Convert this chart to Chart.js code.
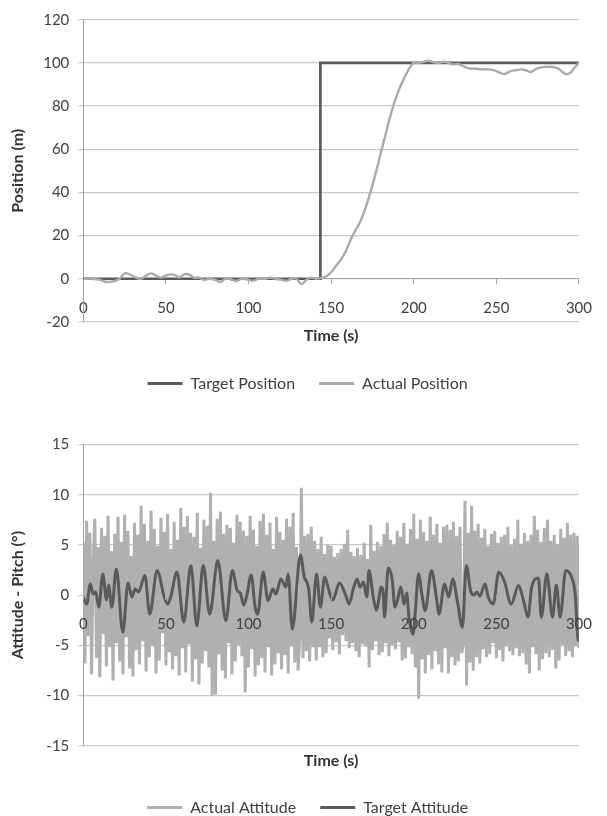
<!DOCTYPE html>
<html>
<head>
<meta charset="utf-8">
<script src="https://cdn.jsdelivr.net/npm/chart.js@4.4.0/dist/chart.umd.min.js"></script>
<style>
  html, body { margin: 0; padding: 0; background: #fff; overflow: hidden; width: 607px; height: 816px; }
  #posChart { position: absolute; left: 0; top: 0; }
  #attChart { position: absolute; left: 0; top: 400px; }
</style>
</head>
<body>
<canvas id="posChart" width="607" height="402"></canvas>
<canvas id="attChart" width="607" height="426"></canvas>
<script>
// ---- position chart data ----
const targetPosTime = [0, 143.5, 143.5, 300];
const targetPosition = [0, 0, 100, 100];

const actualPosTime = [0, 5, 10, 14, 19, 22, 25, 28, 32, 35, 38, 41, 44, 47, 50, 53, 56, 58, 61, 64, 67, 70, 73, 76, 80, 83, 86, 90, 93, 96, 100, 103, 106, 110, 113, 116, 120, 123, 126, 129, 132, 135, 138, 141, 144, 147, 150, 153, 156, 159, 163, 167, 170, 173, 176, 179, 182, 185, 188, 191, 194, 197, 200, 203, 206, 209, 212, 215, 218, 221, 224, 227, 230, 233, 237, 241, 245, 249, 252, 255, 258, 261, 265, 268, 271, 274, 278, 282, 286, 289, 292, 295, 297, 300];
const actualPosition = [0, 0, -0.5, -1.5, -1, 0, 2.5, 2, 0.5, 0, 1.5, 2.5, 1.5, 0.5, 1.5, 2, 1.5, 0.5, 2, 2, 0.5, 0.5, -0.5, 0, -0.5, -1.5, 0, -0.5, -1, 0, -0.5, -1, 0, 0, 0.5, 0, -0.5, -1, 0, 0, -2.5, -0.5, 0.5, 0, 0.5, 1, 3, 6, 9, 13, 20, 25.5, 31, 38, 46, 55, 64, 73, 81, 87.5, 92.5, 97, 100, 100, 100.5, 101, 100.3, 100, 100.5, 100, 99.3, 99.5, 98.5, 97.5, 97.3, 97, 97, 96.5, 95.5, 94.8, 96, 96.5, 97, 96.5, 95.8, 97.2, 98, 98.2, 97.8, 96.5, 94.8, 95.5, 97.5, 100];

// ---- attitude chart data ----
// one sample per second, t = 0 .. 300
const actualAttitude = [
  5.2, -6.8, 7.4, -4.1, 6.2, -7.9, 3.5, 7.6, -6.3, 4.8, -8.2, 6.7, -3.9, 5.9, -7.1, 7.9, -5.2, 4.4, -8.5, 6.1,
  -4.8, 7.8, -6.6, 5.3, -7.9, 8.0, -4.2, 6.4, -7.3, 3.9, -8.1, 7.2, -5.5, 6.0, -6.9, 8.9, -4.6, 7.1, -7.6, 5.4,
  -6.2, 8.4, -5.1, 6.6, -7.8, 4.9, -6.5, 7.7, -3.8, 6.3, -7.0, 8.1, -5.7, 4.6, -7.4, 7.3, -6.1, 5.5, -8.0, 8.7,
  -5.3, 6.8, -7.7, 7.9, -4.9, 6.2, -8.6, 5.8, -6.4, 8.2, -8.9, 4.7, -6.8, 7.5, -5.6, 6.9, -7.2, 10.2, -10.0, 5.4,
  -9.9, 7.6, -5.9, 8.3, -7.5, 6.1, -8.3, 7.0, -4.8, 6.7, -7.9, 5.2, -6.6, 8.0, -5.0, 7.3, -6.1, 6.4, -9.7, 5.9,
  -7.2, 7.9, -5.4, 6.5, -8.1, 4.9, -7.0, 7.4, -6.3, 8.1, -7.7, 6.0, -5.2, 7.2, -8.0, 4.6, -6.9, 7.8, -5.8, 6.3,
  -7.4, 5.5, -6.0, 7.6, -7.8, 6.8, -5.1, 8.2, -6.7, 4.8, -7.5, -4.4, 10.7, -6.3, 5.9, -5.6, 6.1, -6.6, 6.8, -5.2,
  5.4, -6.5, 4.6, -5.2, 5.8, -6.2, 4.1, -5.8, 5.0, -4.3, 4.9, -5.5, 3.8, -4.7, 4.2, -5.9, 4.6, -4.0, 5.1, -4.6,
  6.5, -5.3, 4.3, -4.8, 3.9, -5.6, 4.7, -6.2, 4.0, -4.9, 5.2, -5.1, 3.6, -7.2, 7.0, -5.5, 4.4, -4.6, 5.3, -6.0,
  4.9, -5.7, 6.1, -4.8, 7.2, -6.1, 5.5, -5.0, 5.0, -5.4, 6.4, -4.7, 5.8, -6.5, 7.2, -6.3, 5.1, -5.2, 6.6, -5.9,
  8.1, -7.2, 5.6, -10.3, 7.5, -6.4, 6.3, -7.8, 5.4, -6.0, 7.8, -7.4, 6.0, -5.6, 7.1, -6.9, 5.2, -7.7, 6.8, -5.3,
  7.0, -7.8, 6.5, -6.2, 7.3, -7.0, 5.9, -6.6, 6.8, -5.8, -4.9, 9.4, -9.0, 6.2, -6.7, 8.9, -7.5, 6.4, -6.2, 7.1,
  -6.8, 5.7, -5.4, 6.6, -6.2, 4.9, -5.9, 6.1, -4.8, 6.4, -6.3, 5.2, -5.5, 5.8, -6.6, 6.0, -5.1, 6.8, -5.6, 5.0,
  -6.0, 5.6, -5.3, 7.5, -6.1, 5.1, -5.8, 6.2, -6.9, 5.4, -7.8, 6.0, -5.2, 7.9, -5.9, 6.5, -7.5, 5.3, -6.4, 6.7,
  -5.8, 7.5, -6.2, 5.4, -5.5, 6.0, -7.3, 5.1, -6.5, 6.6, -5.0, 5.7, -6.1, 7.2, -5.6, 6.0, -6.2, 6.2, -5.1, 5.9, -5.3
];

const targetAttTime = [0, 2, 4.3, 5.9, 7.5, 9.4, 11.8, 14.1, 15.3, 17.3, 20, 23.9, 27.1, 29.4, 31.4, 33.4, 37.3, 40.2, 44.7, 49, 51, 52.9, 56.7, 60.8, 65.1, 68.7, 72.6, 76.5, 81.4, 86.3, 90.2, 93.2, 95, 97.1, 99, 101.6, 104, 105.5, 108.9, 111.8, 114.7, 116.5, 119.6, 122.6, 124, 126.5, 131.4, 133.8, 135.5, 136.5, 138.3, 141.2, 143.5, 146.1, 148.6, 151, 155, 158.8, 160.8, 163.7, 165.7, 167.5, 169.6, 171.6, 172.9, 175.5, 177.4, 180.4, 181.5, 182.3, 184.6, 187, 188.6, 190, 192.2, 194.1, 195.7, 197.1, 199.6, 201, 202.9, 204.9, 206.9, 210.8, 213.7, 215.3, 218.6, 221.2, 223.6, 226.5, 229.5, 231.8, 234.4, 236.3, 238.2, 240, 243.2, 245.1, 248.1, 251.5, 255, 258.9, 263.5, 266.4, 269.2, 271.4, 275.5, 277.2, 280.6, 284, 286.3, 288.6, 292, 295.5, 297.7, 299.3, 300];
const targetAttitude = [-0.2, -0.9, 1.1, 0.1, 0.3, -1.2, 2.1, -0.5, 1.0, -1.2, 2.6, -3.7, 1.2, -0.2, 0.6, 0.3, 1.95, -1.9, 2.45, -0.2, -0.9, -0.2, 2.3, -2.7, 2.95, -3.05, 2.95, -1.9, 3.45, -2.55, 2.45, 0.45, 0.2, -1.0, 0, 2.0, -1.2, -1.9, 2.3, -0.55, 0.6, 0.1, 1.6, 0.8, 2.1, -3.4, 4.0, 1.8, 1.2, 0.5, -2.7, 2.1, -1.2, 1.8, 0.5, -0.5, 1.2, 0, -0.9, 0.8, 1.6, 0.8, 1.3, -0.2, 2.45, -0.2, -1.5, 0.8, 0.3, -2.2, 2.7, 1.5, -1.2, -0.6, 0.8, -0.9, 0.2, -2.2, -3.9, -1.5, 2.1, 0.1, -1.55, 2.45, -0.2, -1.9, 1.1, -0.2, 1.6, -0.7, -3.2, 2.95, 0.45, 0, 0.3, -0.1, 1.1, -0.2, -0.9, 2.3, 1.3, -0.9, 0.95, -0.5, -2.2, 0.8, 1.7, -2.2, 2.1, -2.2, 1.0, -2.2, 2.45, 1.8, 0.1, -4.2, -4.6];

const DARK = '#5a5a5a';
const LIGHT = '#aaaaaa';

Chart.defaults.font.family = 'Lato, "Liberation Sans", sans-serif';
Chart.defaults.color = '#404040';

function pts(xs, ys) {
  return ys.map((y, i) => ({ x: xs[i], y: y }));
}

function makeOptions(cfg) {
  return {
    responsive: false,
    animation: false,
    devicePixelRatio: 1,
    layout: { padding: { left: 22, right: 13.7, top: cfg.padTop, bottom: 0.5 } },
    plugins: {
      tooltip: { enabled: false },
      title: { display: false },
      legend: {
        position: 'bottom',
        labels: {
          font: { size: 16 },
          color: '#404040',
          boxWidth: 35,
          boxHeight: 3,
          padding: 24,
          sort: (a, b) => a.datasetIndex - b.datasetIndex,
          generateLabels: chart => Chart.defaults.plugins.legend.labels.generateLabels(chart)
            .map(l => Object.assign(l, { lineWidth: 0 }))
        }
      }
    },
    scales: {
      x: {
        type: 'linear', position: 'bottom', min: 0, max: 300,
        grid: { display: false },
        border: { display: false },
        ticks: { display: false },
        title: { display: true, text: 'Time (s)', font: { size: 16, weight: 'bold' }, color: '#333',
                 padding: { top: 0, bottom: cfg.xTitlePad } },
        afterFit: s => { s.height = cfg.xHeight; }
      },
      x2: {
        type: 'linear', position: { y: 0 }, min: 0, max: 300,
        grid: { drawOnChartArea: false, drawTicks: true, tickLength: 5, color: '#a6a6a6', z: cfg.tickZ },
        border: { display: cfg.zeroBorder, color: '#a6a6a6', width: 1 },
        ticks: { stepSize: 50, padding: 15, font: { size: 15 }, color: '#404040', maxRotation: 0, z: cfg.tickZ }
      },
      y: {
        min: cfg.yMin, max: cfg.yMax,
        grid: { color: '#c8c8c8', lineWidth: 1.2, tickLength: 5 },
        border: { display: true, color: '#a0a0a0', width: 1 },
        ticks: { stepSize: cfg.yStep, padding: 9, font: { size: 15 }, color: '#404040' },
        title: { display: true, text: cfg.yTitle, font: { size: 16, weight: 'bold' }, color: '#333',
                 padding: { top: -13.6, bottom: 0 } },
        afterFit: s => { s.width = 61.3; }
      }
    }
  };
}

new Chart('posChart', {
  type: 'line',
  data: {
    datasets: [
      {
        label: 'Target Position',
        data: pts(targetPosTime, targetPosition),
        borderColor: DARK, backgroundColor: DARK,
        borderWidth: 2.7, pointRadius: 0, tension: 0, order: 1
      },
      {
        label: 'Actual Position',
        data: pts(actualPosTime, actualPosition),
        borderColor: LIGHT, backgroundColor: LIGHT,
        borderWidth: 2.4, pointRadius: 0, tension: 0.4, order: 0
      }
    ]
  },
  options: makeOptions({
    padTop: 19.7, yMin: -20, yMax: 120, yStep: 20, yTitle: 'Position (m)',
    xHeight: 29.6, xTitlePad: 5.7, tickZ: 0, zeroBorder: true
  })
});

new Chart('attChart', {
  type: 'line',
  data: {
    datasets: [
      {
        label: 'Actual Attitude',
        data: actualAttitude.map((v, i) => ({ x: i, y: v })),
        borderColor: '#b0b0b0', backgroundColor: '#b0b0b0',
        borderWidth: 3, pointRadius: 0, tension: 0, order: 1
      },
      {
        label: 'Target Attitude',
        data: pts(targetAttTime, targetAttitude),
        borderColor: DARK, backgroundColor: DARK,
        borderWidth: 3, pointRadius: 0, cubicInterpolationMode: 'monotone', order: 0
      }
    ]
  },
  options: makeOptions({
    padTop: 44.5, yMin: -15, yMax: 15, yStep: 5, yTitle: 'Attitude - Pitch (°)',
    xHeight: 29.8, xTitlePad: 4.7, tickZ: 1, zeroBorder: false
  })
});
</script>
</body>
</html>
